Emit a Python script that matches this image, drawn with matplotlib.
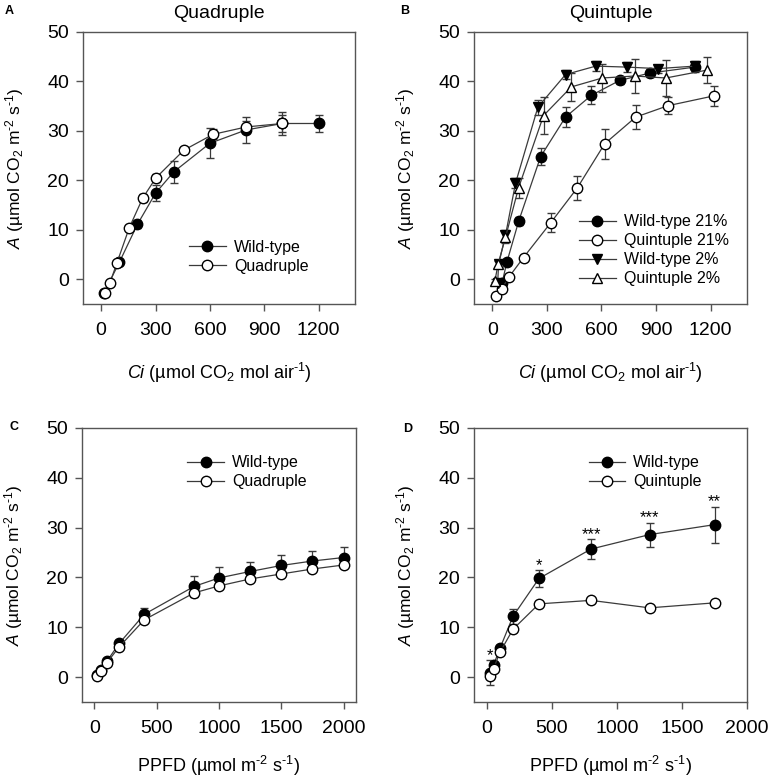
import numpy as np
import matplotlib
matplotlib.use("Agg")
import matplotlib.pyplot as plt

plt.rcParams['font.family'] = ['Liberation Sans', 'DejaVu Sans']
plt.rcParams['mathtext.fontset'] = 'custom'
plt.rcParams['mathtext.rm'] = 'Liberation Sans'
plt.rcParams['mathtext.it'] = 'Liberation Sans:italic'

# panel A - Ci response, quadruple
ci_wt_a = [16, 100, 200, 300, 400, 600, 800, 1000, 1200]
a_wt_a = [-2.7, 3.4, 11.1, 17.4, 21.7, 27.5, 30.2, 31.5, 31.5]
e_wt_a = [0.3, 0.5, 0.8, 1.6, 2.3, 3.0, 2.7, 2.3, 1.8]
ci_q_a = [22, 49, 86, 155, 229, 302, 456, 617, 800, 1000]
a_q_a = [-2.7, -0.7, 3.2, 10.4, 16.4, 20.5, 26.1, 29.3, 30.8, 31.5]
e_q_a = [0.3, 0.3, 0.5, 0.6, 0.8, 0.8, 0.6, 1.0, 1.2, 1.8]

# panel B - Ci response, quintuple, 21% and 2% O2
ci_wt21 = [54, 80, 146, 266, 403, 545, 700, 866, 1113]
a_wt21 = [-0.8, 3.4, 11.8, 24.8, 32.8, 37.2, 40.2, 41.7, 42.9]
e_wt21 = [0.3, 0.5, 0.8, 1.7, 2.0, 1.8, 0.8, 0.8, 1.0]
ci_q21 = [22, 53, 91, 172, 321, 468, 618, 789, 966, 1220]
a_q21 = [-3.3, -1.9, 0.4, 4.4, 11.4, 18.5, 27.4, 32.8, 35.1, 37.1]
e_q21 = [0.3, 0.3, 0.4, 0.5, 1.9, 2.4, 3.0, 2.5, 1.7, 2.0]
ci_wt2 = [30, 35, 73, 128, 251, 403, 569, 743, 911, 1113]
a_wt2 = [-0.8, 3.0, 8.9, 19.4, 34.8, 41.4, 43.1, 42.9, 42.6, 43.1]
e_wt2 = [0.3, 0.5, 1.0, 1.0, 1.5, 1.0, 1.0, 1.0, 0.8, 1.0]
ci_q2 = [15, 32, 73, 145, 282, 435, 605, 783, 954, 1181]
a_q2 = [-0.3, 3.0, 8.5, 18.5, 33.1, 38.9, 40.7, 41.1, 40.7, 42.3]
e_q2 = [0.3, 0.6, 1.2, 2.0, 3.7, 2.8, 2.9, 3.4, 3.6, 2.6]

# panel C - light response, quadruple
ppfd_c = [20, 50, 100, 200, 400, 800, 1000, 1250, 1500, 1750, 2000]
a_wt_c = [0.4, 1.5, 3.2, 6.8, 12.6, 18.2, 19.9, 21.2, 22.4, 23.3, 24.0]
e_wt_c = [0.3, 0.3, 0.5, 0.6, 1.3, 2.1, 2.2, 2.0, 2.1, 2.1, 2.2]
a_q_c = [0.2, 1.2, 2.9, 6.1, 11.5, 16.9, 18.3, 19.7, 20.7, 21.7, 22.5]
e_q_c = [0.2, 0.2, 0.3, 0.4, 0.5, 0.5, 0.5, 0.5, 0.5, 0.5, 0.5]

# panel D - light response, quintuple
ppfd_d = [20, 50, 100, 200, 400, 800, 1250, 1750]
a_wt_d = [0.9, 2.4, 5.8, 12.2, 19.8, 25.7, 28.6, 30.6]
e_wt_d = [2.5, 0.5, 0.6, 1.5, 1.7, 2.0, 2.4, 3.6]
a_q_d = [0.3, 1.7, 5.0, 9.6, 14.7, 15.4, 13.9, 14.9]
e_q_d = [0.2, 0.3, 0.4, 0.6, 0.5, 0.5, 0.5, 0.5]
sig_d = ['*', '', '', '', '*', '***', '***', '**']

LC = '#3a3a3a'
ylab = r'$\it{A}$ (µmol CO$_2$ m$^{‐2}$ s$^{‐1}$)'
cilab = r'$\it{Ci}$ (µmol CO$_2$ mol air$^{‐1}$)'
pplab = r'PPFD (µmol m$^{‐2}$ s$^{‐1}$)'

fig = plt.figure(figsize=(7.7, 7.81), dpi=100)
W, H = 770, 781
def add_ax(l, t, r, b):
    return fig.add_axes([l / W, 1 - b / H, (r - l) / W, (b - t) / H])

axA = add_ax(83, 32, 355, 304)
axB = add_ax(474, 32, 747, 304)
axC = add_ax(82, 428, 356, 702)
axD = add_ax(474, 428, 747, 702)

def series(ax, x, y, e, marker, filled, label):
    fc = 'black' if filled else 'white'
    c = ax.errorbar(x, y, yerr=e, color=LC, lw=0.9, marker=marker, ms=7.5,
                    mfc=fc, mec='black', mew=1.0, ecolor=LC, elinewidth=0.9,
                    capsize=3, capthick=0.9)
    c.lines[0].set_label(label)
    return c.lines[0]

def style(ax, xlim, xticks, xlabel, xpad=16):
    ax.set_xlim(*xlim)
    ax.set_ylim(-5, 50)
    ax.set_xticks(xticks)
    ax.set_yticks([0, 10, 20, 30, 40, 50])
    for s in ax.spines.values():
        s.set_color('#555555')
        s.set_linewidth(1.0)
    ax.tick_params(direction='out', length=5, width=1, color='#555555',
                   labelsize=14, pad=8)
    ax.tick_params(axis='y', pad=5)
    ax.set_ylabel(ylab, fontsize=12.5, labelpad=15)
    ax.set_xlabel(xlabel, fontsize=13, labelpad=xpad)

def legend(ax, handles, x, y):
    ax.legend(handles=handles, loc='upper left', bbox_to_anchor=(x, y),
              frameon=False, fontsize=11.5, handlelength=2.3,
              handletextpad=0.5, labelspacing=0.25, borderpad=0,
              borderaxespad=0)

h = [series(axA, ci_wt_a, a_wt_a, e_wt_a, 'o', True, 'Wild-type'),
     series(axA, ci_q_a, a_q_a, e_q_a, 'o', False, 'Quadruple')]
style(axA, (-100, 1400), [0, 300, 600, 900, 1200], cilab)
legend(axA, h, 0.39, 0.235)
axA.set_title('Quadruple', fontsize=14, pad=10)

h = [series(axB, ci_wt21, a_wt21, e_wt21, 'o', True, 'Wild-type 21%'),
     series(axB, ci_q21, a_q21, e_q21, 'o', False, 'Quintuple 21%'),
     series(axB, ci_wt2, a_wt2, e_wt2, 'v', True, 'Wild-type 2%'),
     series(axB, ci_q2, a_q2, e_q2, '^', False, 'Quintuple 2%')]
style(axB, (-100, 1400), [0, 300, 600, 900, 1200], cilab)
legend(axB, h, 0.385, 0.33)
axB.set_title('Quintuple', fontsize=14, pad=10)

h = [series(axC, ppfd_c, a_wt_c, e_wt_c, 'o', True, 'Wild-type'),
     series(axC, ppfd_c, a_q_c, e_q_c, 'o', False, 'Quadruple')]
style(axC, (-100, 2100), [0, 500, 1000, 1500, 2000], pplab, xpad=12)
legend(axC, h, 0.385, 0.9)

h = [series(axD, ppfd_d, a_wt_d, e_wt_d, 'o', True, 'Wild-type'),
     series(axD, ppfd_d, a_q_d, e_q_d, 'o', False, 'Quintuple')]
style(axD, (-100, 2000), [0, 500, 1000, 1500, 2000], pplab, xpad=12)
legend(axD, h, 0.42, 0.9)
for x, y, e, s in zip(ppfd_d, a_wt_d, e_wt_d, sig_d):
    if s:
        axD.annotate(s, (x, y + e), xytext=(0, -2), textcoords='offset points',
                     ha='center', va='bottom', fontsize=12)

for lab, px, py in [('A', 5, 14), ('B', 400, 14), ('C', 10, 430), ('D', 403, 432)]:
    fig.text(px / W, 1 - py / H, lab, fontsize=9, fontweight='bold')

fig.savefig('out.png', dpi=100)
